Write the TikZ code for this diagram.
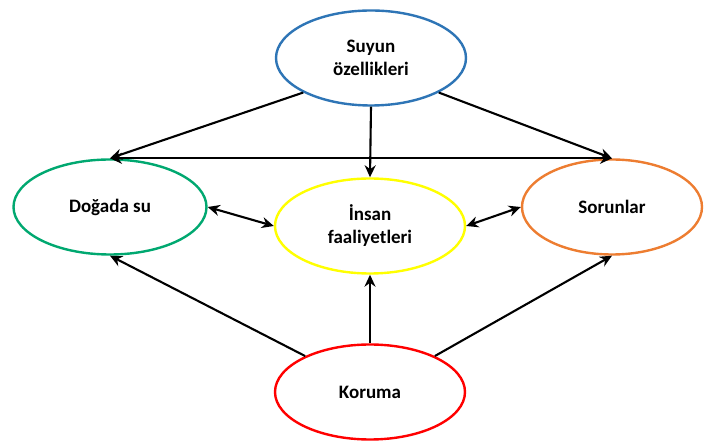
\documentclass[tikz,border=0pt]{standalone}
\usepackage{fontspec}
\setmainfont{Carlito}
\usetikzlibrary{arrows.meta,shapes.geometric}
\definecolor{cblue}{HTML}{2E75B6}
\definecolor{cgreen}{HTML}{00A870}
\definecolor{cyellow}{HTML}{FFFF00}
\definecolor{corange}{HTML}{ED7D31}
\definecolor{cred}{HTML}{FF0000}
\begin{document}
\begin{tikzpicture}[x=1pt,y=-1pt,
  topic/.style={ellipse, draw, line width=2.4pt, fill=white,
    minimum width=190pt, minimum height=95pt, align=center, inner sep=0pt,
    font=\fontsize{19}{23}\selectfont\bfseries},
  link/.style={line width=2.1pt, -{Stealth[length=12pt,width=11pt]}},
  both/.style={line width=2.1pt, {Stealth[length=12pt,width=11pt]}-{Stealth[length=12pt,width=11pt]}}]
\useasboundingbox (0,0) rectangle (707,443);
\node[topic, draw=cblue] (t) at (371,58) {Suyun\\özellikleri};
\node[topic, draw=cgreen, minimum width=193pt] (l) at (110,207) {Doğada su};
\node[topic, draw=cyellow] (m) at (370,226) {İnsan\\faaliyetleri};
\node[topic, draw=corange, minimum width=180pt] (r) at (612,207) {Sorunlar};
\node[topic, draw=cred] (b) at (370,392) {Koruma};
% arrows from the top topic
\draw[link] (t.207) -- (l.north);
\draw[link] (t.333) -- (r.north);
\draw[link] (t.south) -- (m.north);
\draw[both] (l.north) -- (r.north);
% two-way links with the centre
\draw[both] (l.east) -- (m.west);
\draw[both] (m.east) -- (r.west);
% arrows from the bottom topic
\draw[link] (b.151) -- (l.south);
\draw[link] (b.29) -- (r.south);
\draw[link] (b.north) -- (m.south);
\end{tikzpicture}
\end{document}
